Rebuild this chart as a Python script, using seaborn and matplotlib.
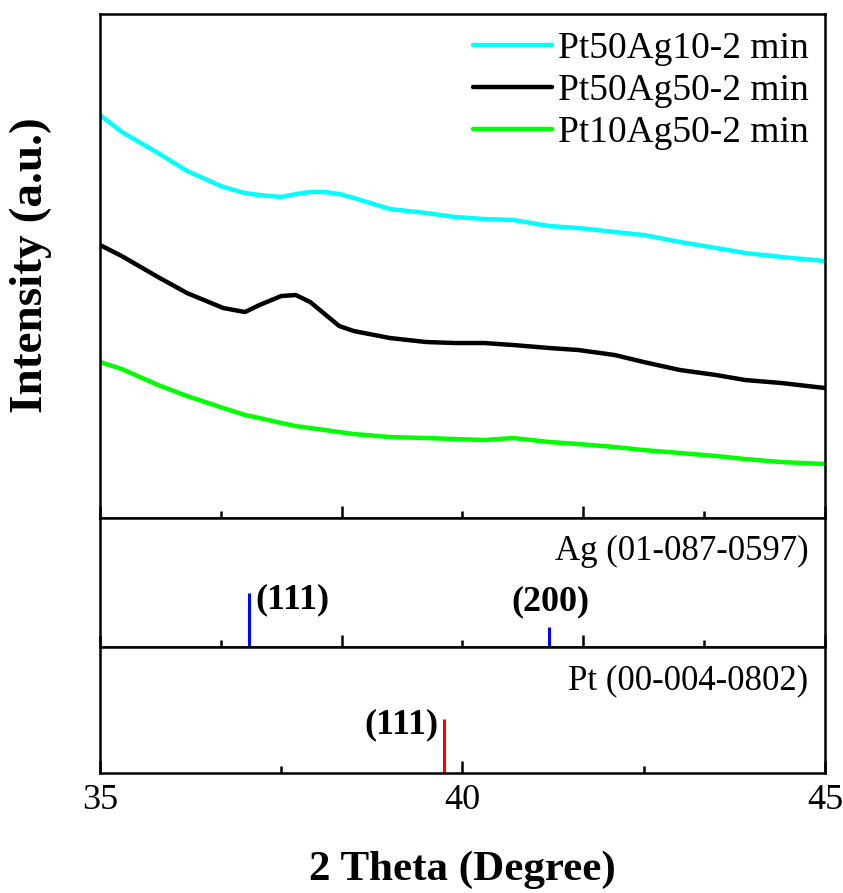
import numpy as np
import pandas as pd
import matplotlib
matplotlib.use("Agg")
import matplotlib.pyplot as plt
import seaborn as sns
from matplotlib.ticker import FixedLocator

# XRD patterns (intensity in arbitrary units)
two_theta = [35.0, 35.3, 35.8, 36.2, 36.7, 37.0, 37.2, 37.5, 37.7, 37.9, 38.1, 38.3, 38.5,
             39.0, 39.5, 39.9, 40.3, 40.7, 41.2, 41.6, 42.1, 42.5, 43.0, 43.5, 43.9, 44.4, 45.0]
pt50ag10 = [403, 386, 365, 347, 331, 325, 323, 321, 324, 326, 326, 324, 320,
            309, 305, 301, 299, 298, 292, 290, 286, 283, 276, 270, 265, 261, 257]
pt50ag50 = [273, 262, 241, 225, 210, 206, 213, 222, 223, 216, 204, 192, 187,
            180, 176, 175, 175, 173, 170, 168, 163, 156, 148, 143, 138, 135, 130]
pt10ag50 = [156, 149, 133, 122, 110, 103, 100, 95, 92, 90, 88, 86, 84,
            81, 80, 79, 78, 80, 76, 74, 71, 68, 65, 62, 59, 56, 54]

samples = ["Pt50Ag10-2 min", "Pt50Ag50-2 min", "Pt10Ag50-2 min"]
sample_colors = ["#00ffff", "#000000", "#00ff00"]

# reference cards
ag_card = "Ag (01-087-0597)"
ag_peaks = [37.06, 41.19]
ag_heights = [100, 37]
ag_hkl = ["(111)", "(200)"]
pt_card = "Pt (00-004-0802)"
pt_peaks = [39.74]
pt_heights = [100]
pt_hkl = ["(111)"]

df = pd.DataFrame({"two_theta": two_theta, samples[0]: pt50ag10,
                   samples[1]: pt50ag50, samples[2]: pt10ag50})
df = df.melt(id_vars="two_theta", var_name="sample", value_name="intensity")

sns.set_theme(style="ticks")
plt.rcParams["font.family"] = ["Liberation Serif", "DejaVu Serif"]
plt.rcParams["axes.linewidth"] = 1.8
plt.rcParams["text.color"] = "black"
plt.rcParams["axes.labelcolor"] = "black"
plt.rcParams["xtick.color"] = "black"
plt.rcParams["axes.edgecolor"] = "black"

fig = plt.figure(figsize=(8.43, 8.93), dpi=100)
left, width = 0.1186, 0.86
ax_top = fig.add_axes([left, 0.4199, width, 0.5644])
ax_ag = fig.add_axes([left, 0.2755, width, 0.1444])
ax_pt = fig.add_axes([left, 0.1344, width, 0.1411])

sns.lineplot(data=df, x="two_theta", y="intensity", hue="sample", hue_order=samples,
             palette=dict(zip(samples, sample_colors)), estimator=None, lw=3.2, ax=ax_top)
ax_top.set_ylim(0, 504)
ax_top.legend(loc="upper right", bbox_to_anchor=(0.977, 0.966), frameon=False, fontsize=27,
              handlelength=2.1, handletextpad=0.15, labelspacing=0.21,
              borderaxespad=0, borderpad=0, labelcolor="black")

ax_ag.vlines(ag_peaks, 0, ag_heights, colors="#0000ff", lw=2.2)
ax_ag.set_ylim(0, 239)
ax_ag.text(0.977, 0.744, ag_card, transform=ax_ag.transAxes, ha="right", va="center", fontsize=25)
ax_ag.annotate(ag_hkl[0], (ag_peaks[0], ag_heights[0]), xytext=(4, -5), textcoords="offset points",
               ha="left", va="center", fontsize=26, fontweight="bold")
ax_ag.annotate(ag_hkl[1], (ag_peaks[1], ag_heights[1]), xytext=(1, 6), textcoords="offset points",
               ha="center", va="bottom", fontsize=26, fontweight="bold")

ax_pt.vlines(pt_peaks, 0, pt_heights, colors="#ff0000", lw=2.2)
ax_pt.set_ylim(0, 233)
ax_pt.text(0.977, 0.73, pt_card, transform=ax_pt.transAxes, ha="right", va="center", fontsize=25)
ax_pt.annotate(pt_hkl[0], (pt_peaks[0], pt_heights[0]), xytext=(-4, -4), textcoords="offset points",
               ha="right", va="center", fontsize=26, fontweight="bold")

# top and middle panels share a 3-interval tick grid, the bottom one is labelled 35/40/45
grid_major = [35, 35 + 10 / 3, 35 + 20 / 3, 45]
grid_minor = [35 + 5 / 3, 40, 35 + 25 / 3]
for ax in (ax_top, ax_ag, ax_pt):
    ax.set_xlim(35, 45)
    ax.set_yticks([])
    ax.set_xlabel("")
    ax.set_ylabel("")
    for side in ax.spines.values():
        side.set_linewidth(1.8)
        side.set_color("black")
    ax.tick_params(axis="x", which="both", direction="in", top=False, bottom=True,
                   width=1.8, colors="black", labelsize=26, pad=8)
    ax.tick_params(axis="x", which="major", length=9)
    ax.tick_params(axis="x", which="minor", length=5)

for ax in (ax_top, ax_ag):
    ax.xaxis.set_major_locator(FixedLocator(grid_major))
    ax.xaxis.set_minor_locator(FixedLocator(grid_minor))
    ax.tick_params(axis="x", labelbottom=False)

ax_pt.xaxis.set_major_locator(FixedLocator([35, 40, 45]))
ax_pt.xaxis.set_minor_locator(FixedLocator([37.5, 42.5]))
ax_pt.set_xticklabels(["35", "40", "45"])

fig.text(0.548, 1 - 870 / 893, "2 Theta (Degree)", ha="center", va="center",
         fontsize=31, fontweight="bold")
fig.text(31 / 843, 1 - 265 / 893, "Intensity (a.u.)", ha="center", va="center",
         rotation=90, fontsize=34, fontweight="bold")

fig.savefig("out.png", dpi=100)
